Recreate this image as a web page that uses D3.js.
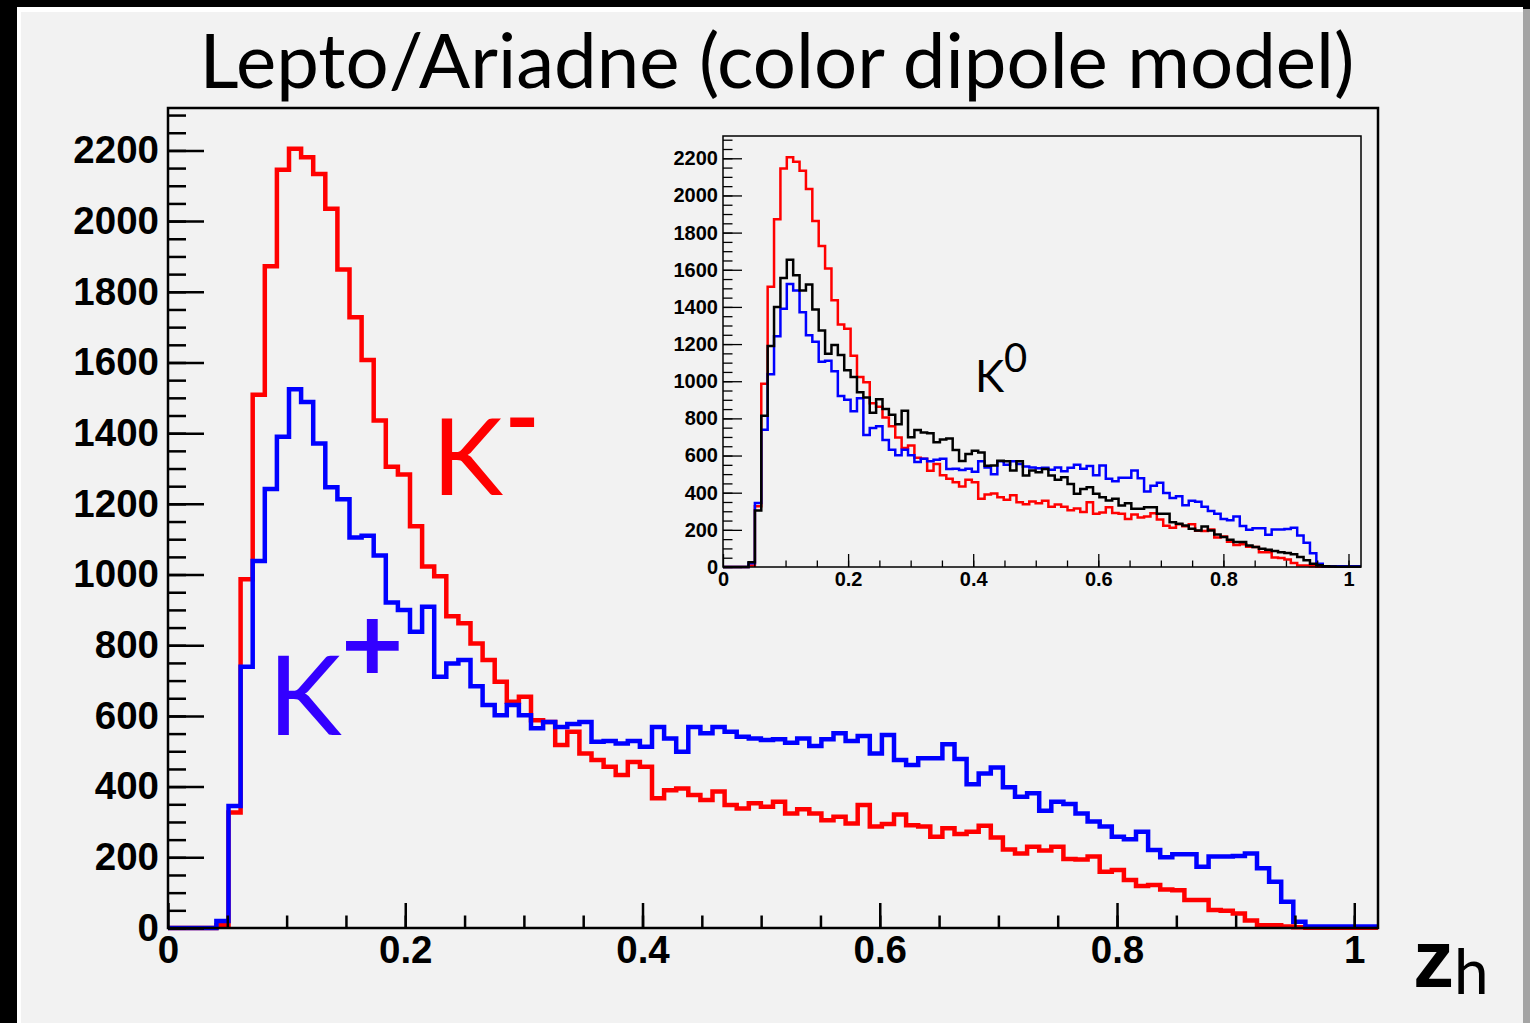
<!DOCTYPE html>
<html>
<head>
<meta charset="utf-8">
<script src="https://cdn.jsdelivr.net/npm/d3@7"></script>
<style>
  html, body { margin: 0; padding: 0; background: #000; }
  svg { display: block; }
</style>
</head>
<body>
<div id="chart"></div>
<script>
// histogram layout: 100 bins from 0 to 1.02 (z_h)
const binCount = 100
const zMax = 1.02

// K- (red), counts per bin
const kMinus = [
  0, 0, 0, 0, 8, 327, 987, 1509, 1872, 2145,
  2205, 2181, 2133, 2035, 1863, 1728, 1607, 1436, 1305, 1283,
  1137, 1023, 995, 882, 862, 805, 758, 697, 640, 654,
  588, 583, 518, 555, 494, 475, 456, 433, 470, 456,
  367, 390, 395, 376, 362, 386, 348, 338, 353, 343,
  357, 324, 336, 324, 305, 315, 296, 348, 287, 294,
  321, 291, 287, 258, 282, 266, 272, 289, 256, 222,
  211, 230, 219, 230, 195, 194, 202, 159, 164, 136,
  119, 122, 109, 107, 79, 79, 51, 49, 41, 21,
  8, 8, 4, 2, 1, 1, 1, 1, 1, 1
]

// K+ (blue)
const kPlus = [
  0, 0, 0, 0, 20, 345, 739, 1038, 1242, 1390,
  1524, 1488, 1371, 1247, 1213, 1105, 1110, 1054, 921, 900,
  838, 909, 711, 748, 758, 684, 631, 602, 631, 602,
  565, 583, 569, 577, 583, 527, 529, 522, 529, 513,
  569, 536, 499, 569, 551, 569, 555, 541, 536, 532,
  534, 524, 536, 515, 534, 551, 529, 543, 494, 546,
  475, 461, 480, 480, 520, 478, 407, 437, 454, 398,
  371, 381, 332, 357, 351, 324, 301, 287, 258, 251,
  272, 221, 200, 209, 209, 173, 202, 202, 204, 211,
  169, 131, 74, 18, 4, 4, 4, 4, 4, 4
]

// K0 (black, inset only)
const kZero = [
  0, 0, 0, 0, 25, 304, 814, 1189, 1399, 1556,
  1654, 1570, 1488, 1520, 1386, 1273, 1148, 1195, 1141, 1059,
  1023, 940, 912, 830, 903, 850, 820, 769, 841, 698,
  738, 724, 720, 671, 686, 692, 630, 570, 608, 626,
  617, 545, 546, 572, 569, 519, 569, 492, 519, 510,
  528, 492, 470, 483, 447, 394, 420, 429, 394, 376,
  358, 367, 331, 343, 313, 313, 322, 322, 286, 286,
  241, 233, 224, 206, 197, 218, 197, 175, 161, 147,
  134, 134, 116, 107, 98, 93, 86, 80, 75, 68,
  54, 36, 18, 9, 4, 3, 2, 2, 1, 1
]

const xTicks = [0, 0.2, 0.4, 0.6, 0.8, 1]
const xTickLabels = ['0', '0.2', '0.4', '0.6', '0.8', '1']
const xMinorTicks = d3.range(1, 21).map(i => i * 0.05)
const yTicks = d3.range(0, 2201, 200)
const yMinorTicks = d3.range(0, 2301, 50)
const yMax = 2320

const titleText = 'Lepto/Ariadne (color dipole model)'

const W = 1530, H = 1023

const svg = d3.select('#chart').append('svg')
  .attr('width', W)
  .attr('height', H)

// slide background
svg.append('rect').attr('width', W).attr('height', H).attr('fill', '#000')
svg.append('rect').attr('x', 17).attr('y', 7).attr('width', 1506).attr('height', H - 7).attr('fill', '#ffffff')
svg.append('rect').attr('x', 21).attr('y', 12).attr('width', 1502).attr('height', H - 12).attr('fill', '#f2f2f2')
svg.append('rect').attr('x', 1523).attr('y', 9).attr('width', 7).attr('height', H - 9).attr('fill', '#a4a4a4')

// title
const title = svg.append('text')
  .attr('x', 777)
  .attr('y', 88)
  .attr('text-anchor', 'middle')
  .style('font-family', 'Lato, "Open Sans", sans-serif')
  .style('font-size', '76px')
  .attr('fill', '#000')
  .text(titleText)
const tw = title.node().getComputedTextLength()
title.style('font-size', (76 * 1155 / tw).toFixed(1) + 'px')

function stepPoints(values) {
  const w = zMax / binCount
  const pts = values.map((v, i) => [i * w, v])
  pts.push([zMax, values[values.length - 1]])
  return pts
}

function histoFrame(box, o) {
  const x = d3.scaleLinear().domain([0, zMax]).range([box.left, box.right])
  const y = d3.scaleLinear().domain([0, yMax]).range([box.bottom, box.top])
  const g = svg.append('g')

  const line = d3.line()
    .x(d => x(d[0]))
    .y(d => y(d[1]))
    .curve(d3.curveStepAfter)

  o.series.forEach(s => {
    g.append('path')
      .datum(stepPoints(s.values))
      .attr('d', line)
      .attr('fill', 'none')
      .attr('stroke', s.color)
      .attr('stroke-width', o.lineWidth)
  })

  // y axis: minor then major ticks, drawn inward
  const yMinorAxis = g.append('g')
    .attr('transform', 'translate(' + box.left + ',0)')
    .call(d3.axisLeft(y).tickValues(yMinorTicks).tickFormat('').tickSizeInner(-o.yTick / 2).tickSizeOuter(0))
  const yAxis = g.append('g')
    .attr('transform', 'translate(' + box.left + ',0)')
    .call(d3.axisLeft(y).tickValues(yTicks).tickFormat(d3.format('d'))
      .tickSizeInner(-o.yTick).tickSizeOuter(0).tickPadding(o.yPad))

  const xMinorAxis = g.append('g')
    .attr('transform', 'translate(0,' + box.bottom + ')')
    .call(d3.axisBottom(x).tickValues(xMinorTicks).tickFormat('').tickSizeInner(-o.xTick / 2).tickSizeOuter(0))
  const xAxis = g.append('g')
    .attr('transform', 'translate(0,' + box.bottom + ')')
    .call(d3.axisBottom(x).tickValues(xTicks).tickFormat((d, i) => xTickLabels[i])
      .tickSizeInner(-o.xTick).tickSizeOuter(0).tickPadding(o.xPad))

  ;[yMinorAxis, yAxis, xMinorAxis, xAxis].forEach(a => {
    a.select('.domain').remove()
    a.selectAll('line').attr('stroke', '#000').attr('stroke-width', o.tickWidth)
    a.selectAll('text')
      .attr('fill', '#000')
      .style('font-family', '"Liberation Sans", Arial, sans-serif')
      .style('font-weight', 'bold')
      .style('font-size', o.fontSize + 'px')
  })

  g.append('rect')
    .attr('x', box.left)
    .attr('y', box.top)
    .attr('width', box.right - box.left)
    .attr('height', box.bottom - box.top)
    .attr('fill', 'none')
    .attr('stroke', '#000')
    .attr('stroke-width', o.frameWidth)

  return g
}

// main pad
histoFrame({ left: 168, right: 1378, top: 108, bottom: 928 }, {
  series: [
    { values: kMinus, color: '#ff0000' },
    { values: kPlus, color: '#0000ff' }
  ],
  lineWidth: 4.5,
  yTick: 36, xTick: 25,
  yPad: 9, xPad: 8,
  tickWidth: 2.5, frameWidth: 2.5,
  fontSize: 38.5
})

// inset pad
histoFrame({ left: 723, right: 1361, top: 136, bottom: 567 }, {
  series: [
    { values: kMinus, color: '#ff0000' },
    { values: kPlus, color: '#0000ff' },
    { values: kZero, color: '#000000' }
  ],
  lineWidth: 2.5,
  yTick: 19, xTick: 13,
  yPad: 5, xPad: 5,
  tickWidth: 1.3, frameWidth: 1.5,
  fontSize: 20
})

// particle labels
const gill = 'Lato, "Open Sans", sans-serif'
svg.append('text').attr('x', 432).attr('y', 495)
  .style('font-family', gill).style('font-size', '107px').attr('fill', '#ff0000').text('K')
svg.append('text').attr('x', 505).attr('y', 450)
  .style('font-family', gill).style('font-size', '92px').style('font-weight', 'bold').attr('fill', '#ff0000').text('-')

svg.append('text').attr('x', 268).attr('y', 735)
  .style('font-family', gill).style('font-size', '111px').attr('fill', '#3300ff').text('K')
svg.append('text').attr('x', 341).attr('y', 682)
  .style('font-family', gill).style('font-size', '108px').style('font-weight', 'bold').attr('fill', '#3300ff').text('+')

svg.append('text').attr('x', 975).attr('y', 392)
  .style('font-family', gill).style('font-size', '44px').attr('fill', '#000').text('K')
svg.append('text').attr('x', 1004).attr('y', 372)
  .style('font-family', gill).style('font-size', '40px').attr('fill', '#000').text('0')

// axis title z_h
svg.append('text').attr('x', 1413).attr('y', 987)
  .style('font-family', '"Liberation Sans", Arial, sans-serif').style('font-weight', 'bold')
  .style('font-size', '82px').attr('fill', '#000').text('z')
svg.append('text').attr('x', 1454).attr('y', 994)
  .style('font-family', gill).style('font-size', '62px').attr('fill', '#000').text('h')
</script>
</body>
</html>
